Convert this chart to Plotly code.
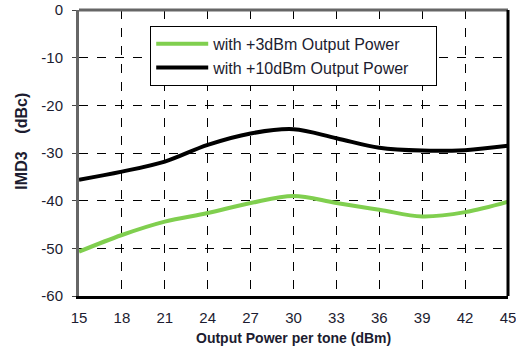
import plotly.graph_objects as go

x_vals = [15, 18, 21, 24, 27, 30, 33, 36, 39, 42, 45]
imd3_3dbm = [-50.7, -47.2, -44.4, -42.6, -40.5, -39.0, -40.5, -41.9, -43.3, -42.4, -40.2]
imd3_10dbm = [-35.6, -33.9, -31.8, -28.3, -25.9, -25.0, -26.9, -28.9, -29.5, -29.4, -28.5]
series_names = ["with +3dBm Output Power", "with +10dBm Output Power"]
x_ticks = [15, 18, 21, 24, 27, 30, 33, 36, 39, 42, 45]
y_ticks = [0, -10, -20, -30, -40, -50, -60]

fig = go.Figure()
fig.add_trace(go.Scatter(x=x_vals, y=imd3_3dbm, mode="lines", name=series_names[0],
                         line=dict(color="#80cf4f", width=4, shape="spline", smoothing=1.0)))
fig.add_trace(go.Scatter(x=x_vals, y=imd3_10dbm, mode="lines", name=series_names[1],
                         line=dict(color="#000000", width=4, shape="spline", smoothing=1.0)))

tick_font = dict(family="Liberation Sans, Arial", size=15, color="#1c1c30")
fig.update_layout(
    width=516, height=349,
    margin=dict(l=79, r=8, t=10, b=53, autoexpand=False),
    paper_bgcolor="white", plot_bgcolor="white",
    showlegend=True,
    legend=dict(x=0.166, y=0.945, xanchor="left", yanchor="top", orientation="h",
                bgcolor="white", bordercolor="black", borderwidth=1,
                font=dict(family="Liberation Sans, Arial", size=16, color="#1c1c30"),
                itemwidth=52, entrywidth=218, entrywidthmode="pixels",
                traceorder="normal"),
    xaxis=dict(range=[15, 45], tickvals=x_ticks, ticktext=[str(v) for v in x_ticks],
               showgrid=True, gridcolor="black", gridwidth=1.2, griddash="dash",
               showline=True, linecolor="black", linewidth=3, mirror=False,
               ticks="", tickfont=tick_font, zeroline=False, automargin=False,
               ticklabelstandoff=6, ticklabeloverflow="allow"),
    yaxis=dict(range=[-60, 0], tickvals=y_ticks, ticktext=[str(v) for v in y_ticks],
               showgrid=True, gridcolor="black", gridwidth=1.2, griddash="dash",
               showline=True, linecolor="#666666", linewidth=3, mirror=False,
               ticks="outside", ticklen=4, tickcolor="#444444", tickfont=tick_font,
               zeroline=False, automargin=False, ticklabelstandoff=6,
               ticklabeloverflow="allow"),
    annotations=[
        dict(text="<b>IMD3&nbsp;&nbsp;&nbsp;&nbsp;(dBc)</b>", textangle=-90, xref="paper", yref="paper",
             x=-0.135, y=0.54, xanchor="center", yanchor="middle", showarrow=False,
             font=dict(family="Liberation Sans, Arial", size=16, color="#1c1c30")),
        dict(text="<b>Output Power per tone (dBm)</b>", xref="paper", yref="paper",
             x=0.5, y=-0.147, xanchor="center", yanchor="middle", showarrow=False,
             font=dict(family="Liberation Sans, Arial", size=14, color="#1c1c30")),
    ],
    shapes=[
        dict(type="line", xref="paper", yref="paper", x0=0, x1=1, y0=1, y1=1,
             line=dict(color="#666666", width=3)),
        dict(type="line", xref="paper", yref="paper", x0=1, x1=1, y0=0, y1=1,
             line=dict(color="black", width=3)),
    ],
)

fig.write_html("out.html", config={"displayModeBar": False},
               post_script="document.body.style.margin='0';")
